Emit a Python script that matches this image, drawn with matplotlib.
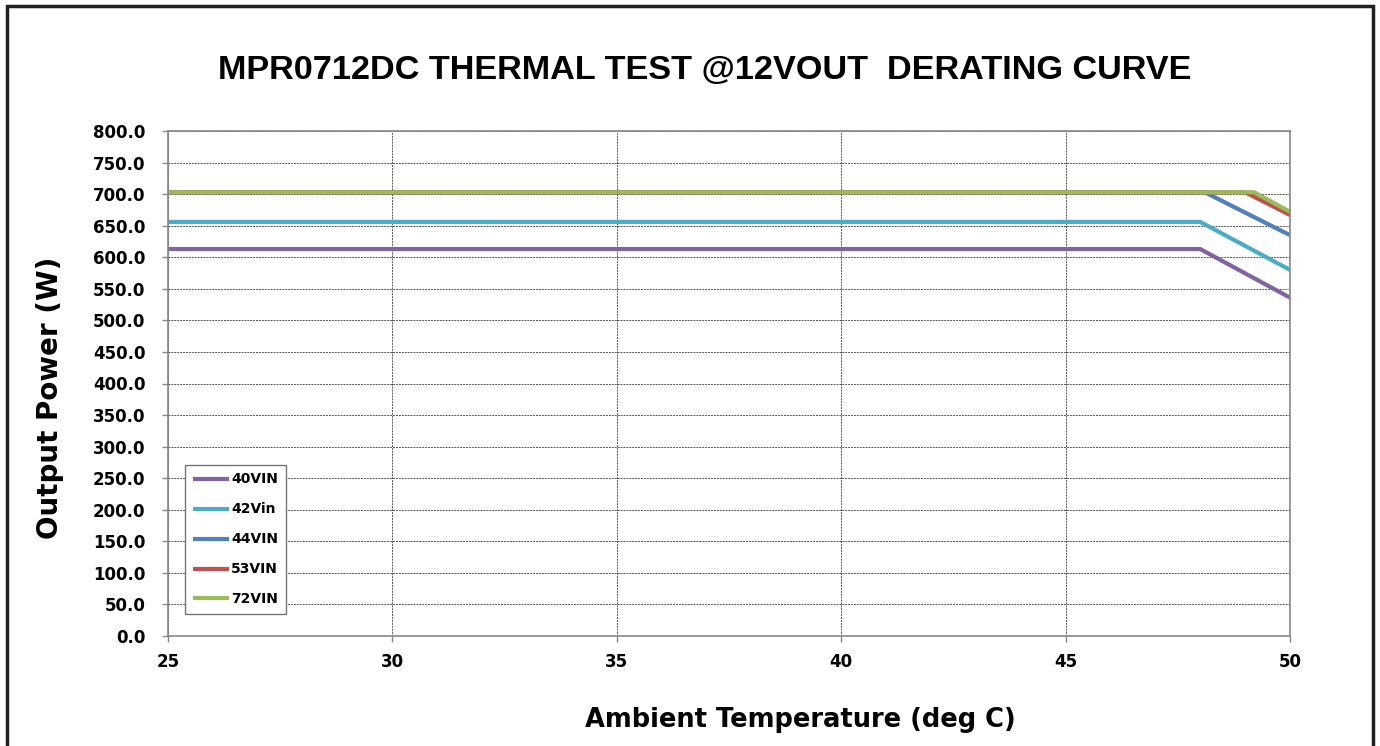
import matplotlib.pyplot as plt
from matplotlib.patches import Rectangle

plt.rcParams['font.family'] = ['DejaVu Sans']
plt.rcParams['font.weight'] = 'bold'

# derating curves: ambient temperature (deg C) vs output power (W)
temp_40 = [25, 48, 50]
power_40 = [613, 613, 536]
temp_42 = [25, 48, 50]
power_42 = [656, 656, 580]
temp_44 = [25, 48.1, 50]
power_44 = [703, 703, 635]
temp_53 = [25, 49.0, 50]
power_53 = [703, 703, 667]
temp_72 = [25, 49.2, 50]
power_72 = [703, 703, 672]

labels = ['40VIN', '42Vin', '44VIN', '53VIN', '72VIN']
colors = ['#8064A2', '#4BACC6', '#4F81BD', '#C0504D', '#9BBB59']

x_ticks = [25, 30, 35, 40, 45, 50]
y_ticks = list(range(0, 801, 50))

fig = plt.figure(figsize=(13.8, 7.46), dpi=100)
ax = fig.add_axes([168 / 1380, 1 - 636 / 746, 1122 / 1380, 505 / 746])

series = [(temp_40, power_40), (temp_42, power_42), (temp_44, power_44),
          (temp_53, power_53), (temp_72, power_72)]
for (t, p), lab, c in zip(series, labels, colors):
    ax.plot(t, p, color=c, lw=3, label=lab, solid_capstyle='butt')

ax.set_xlim(25, 50)
ax.set_ylim(0, 800)
ax.set_xticks(x_ticks)
ax.set_yticks(y_ticks)
ax.set_yticklabels(['%.1f' % v for v in y_ticks])
ax.tick_params(axis='both', labelsize=12, length=4.3, color='#888888', width=1.0)
ax.tick_params(axis='y', pad=12)
ax.tick_params(axis='x', pad=8)
ax.grid(True, color='#555555', ls=(0, (2, 1)), lw=0.7)
for s in ax.spines.values():
    s.set_color('#888888')
    s.set_linewidth(1.2)

ax.set_xlabel('Ambient Temperature (deg C)', fontsize=18.5, fontweight='bold')
ax.xaxis.set_label_coords((800 - 168) / 1122, (636 - 720) / 505)
ax.xaxis.label.set_va('center')
ax.set_ylabel('Output Power (W)', fontsize=20, fontweight='bold')
ax.yaxis.set_label_coords((50 - 168) / 1122, (636 - 398) / 505)
ax.yaxis.label.set_va('center')
fig.text(705 / 1380, 1 - 70 / 746, 'MPR0712DC THERMAL TEST @12VOUT  DERATING CURVE',
         ha='center', va='center', fontsize=24.7, fontweight='bold',
         family='Liberation Sans')

leg = ax.legend(loc='lower left', bbox_to_anchor=(0.0152, 0.0436), fontsize=10,
                handlelength=2.6, handletextpad=0.15, labelspacing=1.15,
                borderpad=0.55, borderaxespad=0, fancybox=False, framealpha=1,
                edgecolor='#777777')
leg.get_frame().set_linewidth(1.0)

fig.patches.append(Rectangle((7 / 1380, -0.1), 1366 / 1380, 1.1 - 6 / 746,
                             transform=fig.transFigure, fill=False,
                             edgecolor='#222222', lw=2.5))

fig.savefig('out.png', dpi=100)
